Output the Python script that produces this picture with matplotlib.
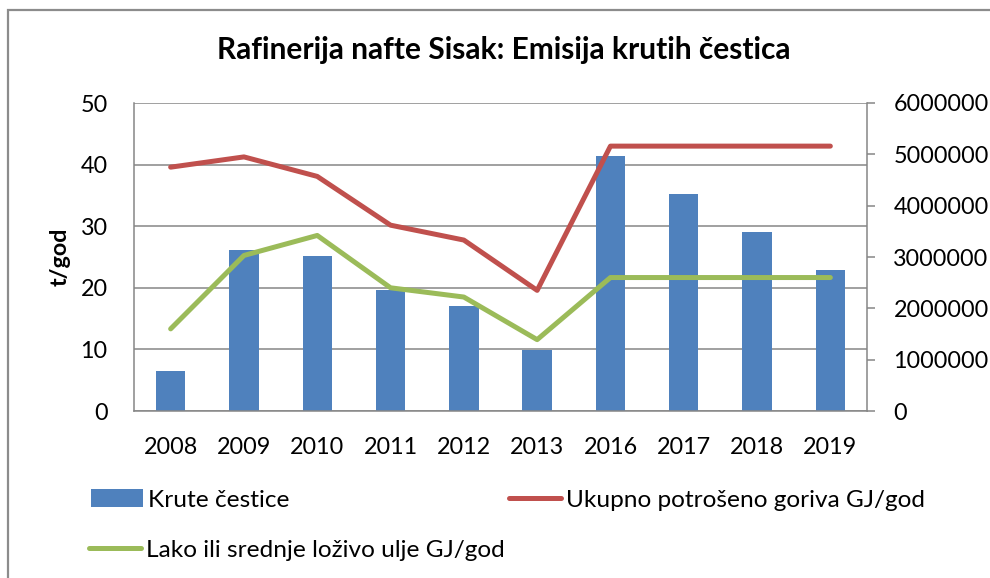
import matplotlib
matplotlib.use("Agg")
import matplotlib.pyplot as plt
from matplotlib.patches import Rectangle, Patch
from matplotlib.lines import Line2D
from matplotlib.ticker import FuncFormatter, MultipleLocator
import numpy as np

plt.rcParams['font.family'] = ['Lato', 'DejaVu Sans']

years = ["2008", "2009", "2010", "2011", "2012", "2013", "2016", "2017", "2018", "2019"]
krute_cestice = [6.5, 26.1, 25.1, 19.6, 17.0, 9.9, 41.4, 35.2, 29.0, 22.9]
ukupno_goriva = [4750000, 4950000, 4570000, 3620000, 3330000, 2350000, 5160000, 5160000, 5160000, 5160000]
lako_ulje = [1600000, 3030000, 3420000, 2400000, 2220000, 1390000, 2600000, 2600000, 2600000, 2600000]

title = "Rafinerija nafte Sisak: Emisija krutih čestica"
ylabel = "t/god"
lab_bar = "Krute čestice"
lab_red = "Ukupno potrošeno goriva GJ/god"
lab_green = "Lako ili srednje loživo ulje GJ/god"

C_BAR = "#4F81BD"
C_RED = "#C0504D"
C_GREEN = "#9BBB59"
C_GRID = "#868686"

W, H = 990, 578
fig = plt.figure(figsize=(W / 100, H / 100), dpi=100)

def fx(px):
    return px / W

def fy(py):
    return 1 - py / H

# outer chart border
fig.patches.append(Rectangle((fx(8), fy(H + 20)), fx(W + 20), (H + 10) / H, transform=fig.transFigure,
                             fill=False, edgecolor="#8C8C8C", linewidth=1.6))

ax = fig.add_axes([fx(134), fy(411), fx(867) - fx(134), fy(103) - fy(411)])
x = np.arange(len(years))
ax.bar(x, krute_cestice, width=0.4, color=C_BAR, zorder=2)
ax.set_xlim(-0.5, len(years) - 0.5)
ax.set_ylim(0, 50)
ax.yaxis.set_major_locator(MultipleLocator(10))
ax.set_xticks(x)
ax.set_xticklabels(years)
ax.set_axisbelow(True)
ax.yaxis.grid(True, color=C_GRID, linewidth=1.1)
for s in ["top", "right"]:
    ax.spines[s].set_visible(False)
for s in ["left", "bottom"]:
    ax.spines[s].set_color(C_GRID)
    ax.spines[s].set_linewidth(1.1)
ax.tick_params(axis="y", length=0, pad=19, labelsize=16.8)
ax.tick_params(axis="x", length=0, pad=19, labelsize=16.8)
ax.set_ylabel(ylabel, fontsize=16.8, fontweight="bold", labelpad=7)

ax2 = ax.twinx()
ax2.plot(x, ukupno_goriva, color=C_RED, linewidth=3.6, solid_capstyle="round", solid_joinstyle="round")
ax2.plot(x, lako_ulje, color=C_GREEN, linewidth=3.6, solid_capstyle="round", solid_joinstyle="round")
ax2.set_ylim(0, 6000000)
ax2.yaxis.set_major_locator(MultipleLocator(1000000))
ax2.yaxis.set_major_formatter(FuncFormatter(lambda v, p: f"{int(round(v))}"))
for s in ["top", "left", "bottom"]:
    ax2.spines[s].set_visible(False)
ax2.spines["right"].set_color(C_GRID)
ax2.spines["right"].set_linewidth(1.1)
ax2.tick_params(axis="y", direction="out", length=6, width=1.1, color=C_GRID, pad=13, labelsize=16.8)

fig.text(fx(504), fy(50), title, fontsize=21.5, fontweight="bold", ha="center", va="center")

h_bar = Patch(facecolor=C_BAR, edgecolor="none")
h_red = Line2D([], [], color=C_RED, linewidth=3.6, solid_capstyle="round")
h_green = Line2D([], [], color=C_GREEN, linewidth=3.6, solid_capstyle="round")
common = dict(frameon=False, loc="center left", borderpad=0, borderaxespad=0,
              handlelength=2.13, handletextpad=0.22, fontsize=17.6)
leg1 = fig.legend([h_bar], [lab_bar], bbox_to_anchor=(fx(91), fy(500)), **common)
leg2 = fig.legend([h_red], [lab_red], bbox_to_anchor=(fx(509), fy(500)), **common)
leg3 = fig.legend([h_green], [lab_green], bbox_to_anchor=(fx(89), fy(550)), **common)

fig.savefig("out.png", dpi=100)
